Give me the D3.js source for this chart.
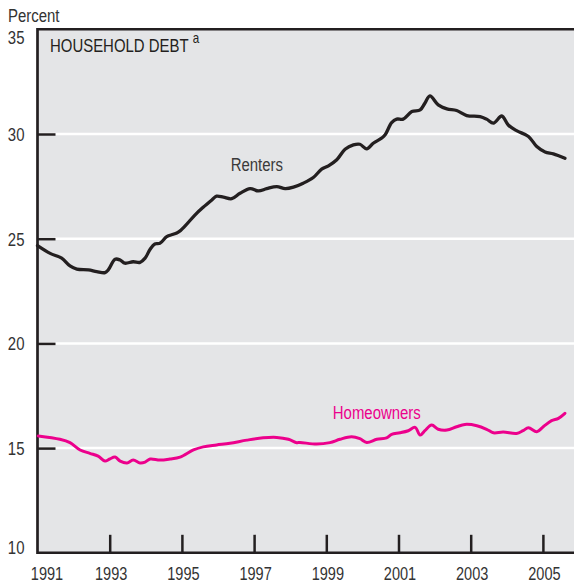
<!DOCTYPE html>
<html>
<head>
<meta charset="utf-8">
<script src="https://cdn.jsdelivr.net/npm/d3@7"></script>
<style>
  html, body { margin: 0; padding: 0; background: #ffffff; }
  svg { display: block; }
  text { font-family: "Liberation Sans", Arial, sans-serif; }
</style>
</head>
<body>
<svg id="chart" width="574" height="584"></svg>
<script>
// ---- Data ----
const title = "HOUSEHOLD DEBT";
const titleNote = "a";
const yAxisTitle = "Percent";
const yTicks = [10, 15, 20, 25, 30, 35];
const xTicks = [1991, 1993, 1995, 1997, 1999, 2001, 2003, 2005];

const renterYears = [1991.0, 1991.35, 1991.67, 1991.9, 1992.09, 1992.41, 1992.64, 1992.87, 1992.96, 1993.15,
  1993.29, 1993.42, 1993.65, 1993.84, 1993.98, 1994.12, 1994.25, 1994.39, 1994.58, 1994.76,
  1994.9, 1995.09, 1995.36, 1995.59, 1995.83, 1995.96, 1996.15, 1996.38, 1996.61, 1996.89,
  1997.12, 1997.35, 1997.63, 1997.86, 1998.09, 1998.36, 1998.64, 1998.87, 1999.06, 1999.29,
  1999.52, 1999.75, 1999.93, 2000.12, 2000.3, 2000.53, 2000.63, 2000.81, 2000.95, 2001.13,
  2001.37, 2001.6, 2001.73, 2001.87, 2002.1, 2002.34, 2002.61, 2002.89, 2003.26, 2003.44,
  2003.63, 2003.86, 2004.04, 2004.27, 2004.6, 2004.83, 2005.06, 2005.29, 2005.61];
const renterValues = [24.67, 24.30, 24.07, 23.70, 23.55, 23.51, 23.43, 23.38, 23.51, 24.02,
  23.98, 23.83, 23.90, 23.87, 24.07, 24.50, 24.75, 24.78, 25.10, 25.21,
  25.31, 25.61, 26.13, 26.50, 26.85, 27.03, 26.98, 26.91, 27.17, 27.39,
  27.28, 27.39, 27.49, 27.39, 27.46, 27.65, 27.92, 28.32, 28.48, 28.77,
  29.27, 29.48, 29.51, 29.29, 29.56, 29.80, 29.96, 30.54, 30.71, 30.71,
  31.07, 31.15, 31.47, 31.82, 31.39, 31.20, 31.12, 30.88, 30.83, 30.71,
  30.52, 30.86, 30.43, 30.16, 29.88, 29.40, 29.14, 29.05, 28.84];

const ownerYears = [1991.02, 1991.62, 1991.9, 1992.18, 1992.45, 1992.68, 1992.87, 1993.0, 1993.15, 1993.29,
  1993.48, 1993.65, 1993.84, 1993.98, 1994.12, 1994.39, 1994.67, 1994.95, 1995.32, 1995.59,
  1995.96, 1996.33, 1996.8, 1997.25, 1997.63, 1997.95, 1998.18, 1998.27, 1998.73, 1999.1,
  1999.38, 1999.7, 1999.93, 2000.12, 2000.4, 2000.67, 2000.81, 2001.04, 2001.27, 2001.46,
  2001.6, 2001.73, 2001.92, 2002.1, 2002.34, 2002.61, 2002.84, 2003.17, 2003.44, 2003.63,
  2003.9, 2004.27, 2004.45, 2004.6, 2004.83, 2005.01, 2005.24, 2005.43, 2005.61];
const ownerValues = [15.58, 15.42, 15.26, 14.91, 14.75, 14.62, 14.38, 14.48, 14.57, 14.38,
  14.29, 14.43, 14.29, 14.33, 14.48, 14.43, 14.48, 14.57, 14.91, 15.06,
  15.15, 15.23, 15.38, 15.49, 15.51, 15.42, 15.26, 15.27, 15.19, 15.26,
  15.42, 15.54, 15.45, 15.27, 15.42, 15.49, 15.66, 15.73, 15.83, 15.99,
  15.62, 15.83, 16.10, 15.90, 15.86, 16.02, 16.13, 16.07, 15.90, 15.73,
  15.77, 15.70, 15.83, 15.97, 15.78, 16.02, 16.31, 16.42, 16.66];

const seriesNames = ["Renters", "Homeowners"];

// ---- Layout ----
const svg = d3.select("#chart");
const padL = 37.5, padR = 574, padT = 29.3, padB = 552.8;
const squeeze = 0.83; // condensed type look

const x = d3.scaleLinear().domain([1991, 1991 + (padR - padL) / 36.1]).range([padL, padR]);
const y = d3.scaleLinear().domain([10, 35]).range([padB, padT]);

const ink = "#231f20";
const pink = "#ec008c";

function narrow(sel) {
  sel.each(function () {
    const w = this.getComputedTextLength();
    d3.select(this).attr("textLength", w * squeeze).attr("lengthAdjust", "spacingAndGlyphs");
  });
}

// background panel
svg.append("rect")
  .attr("x", padL).attr("y", y(35))
  .attr("width", padR - padL).attr("height", y(10) - y(35))
  .attr("fill", "#e4e5e7");

// white gridlines
svg.append("g").selectAll("line")
  .data(yTicks.filter(d => d > 10 && d < 35))
  .join("line")
  .attr("x1", padL).attr("x2", padR)
  .attr("y1", d => y(d)).attr("y2", d => y(d))
  .attr("stroke", "#ffffff").attr("stroke-width", 2.5);

// y axis ticks (inward) and labels
const yAxis = d3.axisLeft(y).tickValues(yTicks).tickSize(-18).tickPadding(13).tickFormat(d3.format("d"));
const gy = svg.append("g").attr("transform", `translate(${padL},0)`).call(yAxis);
gy.select(".domain").remove();
gy.attr("font-family", null);
gy.selectAll(".tick line")
  .attr("stroke", ink).attr("stroke-width", 2.5)
  .attr("display", d => (d === 10 || d === 35) ? "none" : null);
gy.selectAll(".tick text")
  .attr("fill", "#333333").attr("font-size", 18)
  .attr("x", -13)
  .attr("dy", d => d === 35 ? "0.8em" : d === 10 ? "0.05em" : "0.36em")
  .call(narrow);

// x axis ticks (inward) and labels
const xAxis = d3.axisBottom(x).tickValues(xTicks).tickSize(-18).tickPadding(0).tickFormat(d3.format("d"));
const gx = svg.append("g").attr("transform", `translate(0,${padB})`).call(xAxis);
gx.select(".domain").remove();
gx.attr("font-family", null);
gx.selectAll(".tick line")
  .attr("stroke", ink).attr("stroke-width", 2.5)
  .attr("display", d => d === 1991 ? "none" : null);
gx.selectAll(".tick text")
  .attr("fill", "#333333").attr("font-size", 17.5)
  .attr("y", 27.3).attr("dy", 0)
  .attr("x", d => d === 1991 ? 9 : 1)
  .call(narrow);

// frame: left axis, top border, bottom axis
svg.append("line").attr("x1", padL).attr("x2", padL).attr("y1", y(35) - 1.2).attr("y2", padB + 1.2)
  .attr("stroke", ink).attr("stroke-width", 2.7);
svg.append("line").attr("x1", padL).attr("x2", padR).attr("y1", y(35)).attr("y2", y(35))
  .attr("stroke", ink).attr("stroke-width", 2.5);
svg.append("line").attr("x1", padL).attr("x2", padR).attr("y1", padB).attr("y2", padB)
  .attr("stroke", ink).attr("stroke-width", 2.5);

// lines
const line = d3.line().x(d => x(d[0])).y(d => y(d[1])).curve(d3.curveCatmullRom.alpha(0.5));
const renters = renterYears.map((t, i) => [t, renterValues[i]]);
const owners = ownerYears.map((t, i) => [t, ownerValues[i]]);

svg.append("path").datum(owners).attr("d", line)
  .attr("fill", "none").attr("stroke", pink).attr("stroke-width", 3)
  .attr("stroke-linejoin", "round").attr("stroke-linecap", "round");
svg.append("path").datum(renters).attr("d", line)
  .attr("fill", "none").attr("stroke", ink).attr("stroke-width", 3.3)
  .attr("stroke-linejoin", "round").attr("stroke-linecap", "round");

// series labels
svg.append("text").attr("x", x(1996.35)).attr("y", y(28.22))
  .attr("font-size", 18).attr("fill", "#3a3a3a").text(seriesNames[0]).call(narrow);
svg.append("text").attr("x", x(1999.18)).attr("y", y(16.39))
  .attr("font-size", 18).attr("fill", pink).text(seriesNames[1]).call(narrow);

// title (condensed via transform so the superscript sits cleanly after it)
const tg = svg.append("g").attr("transform", `translate(50,51.5) scale(${squeeze},1)`);
const tt = tg.append("text").attr("x", 0).attr("y", 0)
  .attr("font-size", 18).attr("fill", ink).text(title);
const tw = tt.node().getComputedTextLength();
tg.append("text").attr("x", tw + 5).attr("y", -9)
  .attr("font-size", 14).attr("fill", ink).text(titleNote);

// y axis title
svg.append("text").attr("x", 8).attr("y", 21.5)
  .attr("font-size", 18).attr("fill", "#333333").text(yAxisTitle).call(narrow);
</script>
</body>
</html>
